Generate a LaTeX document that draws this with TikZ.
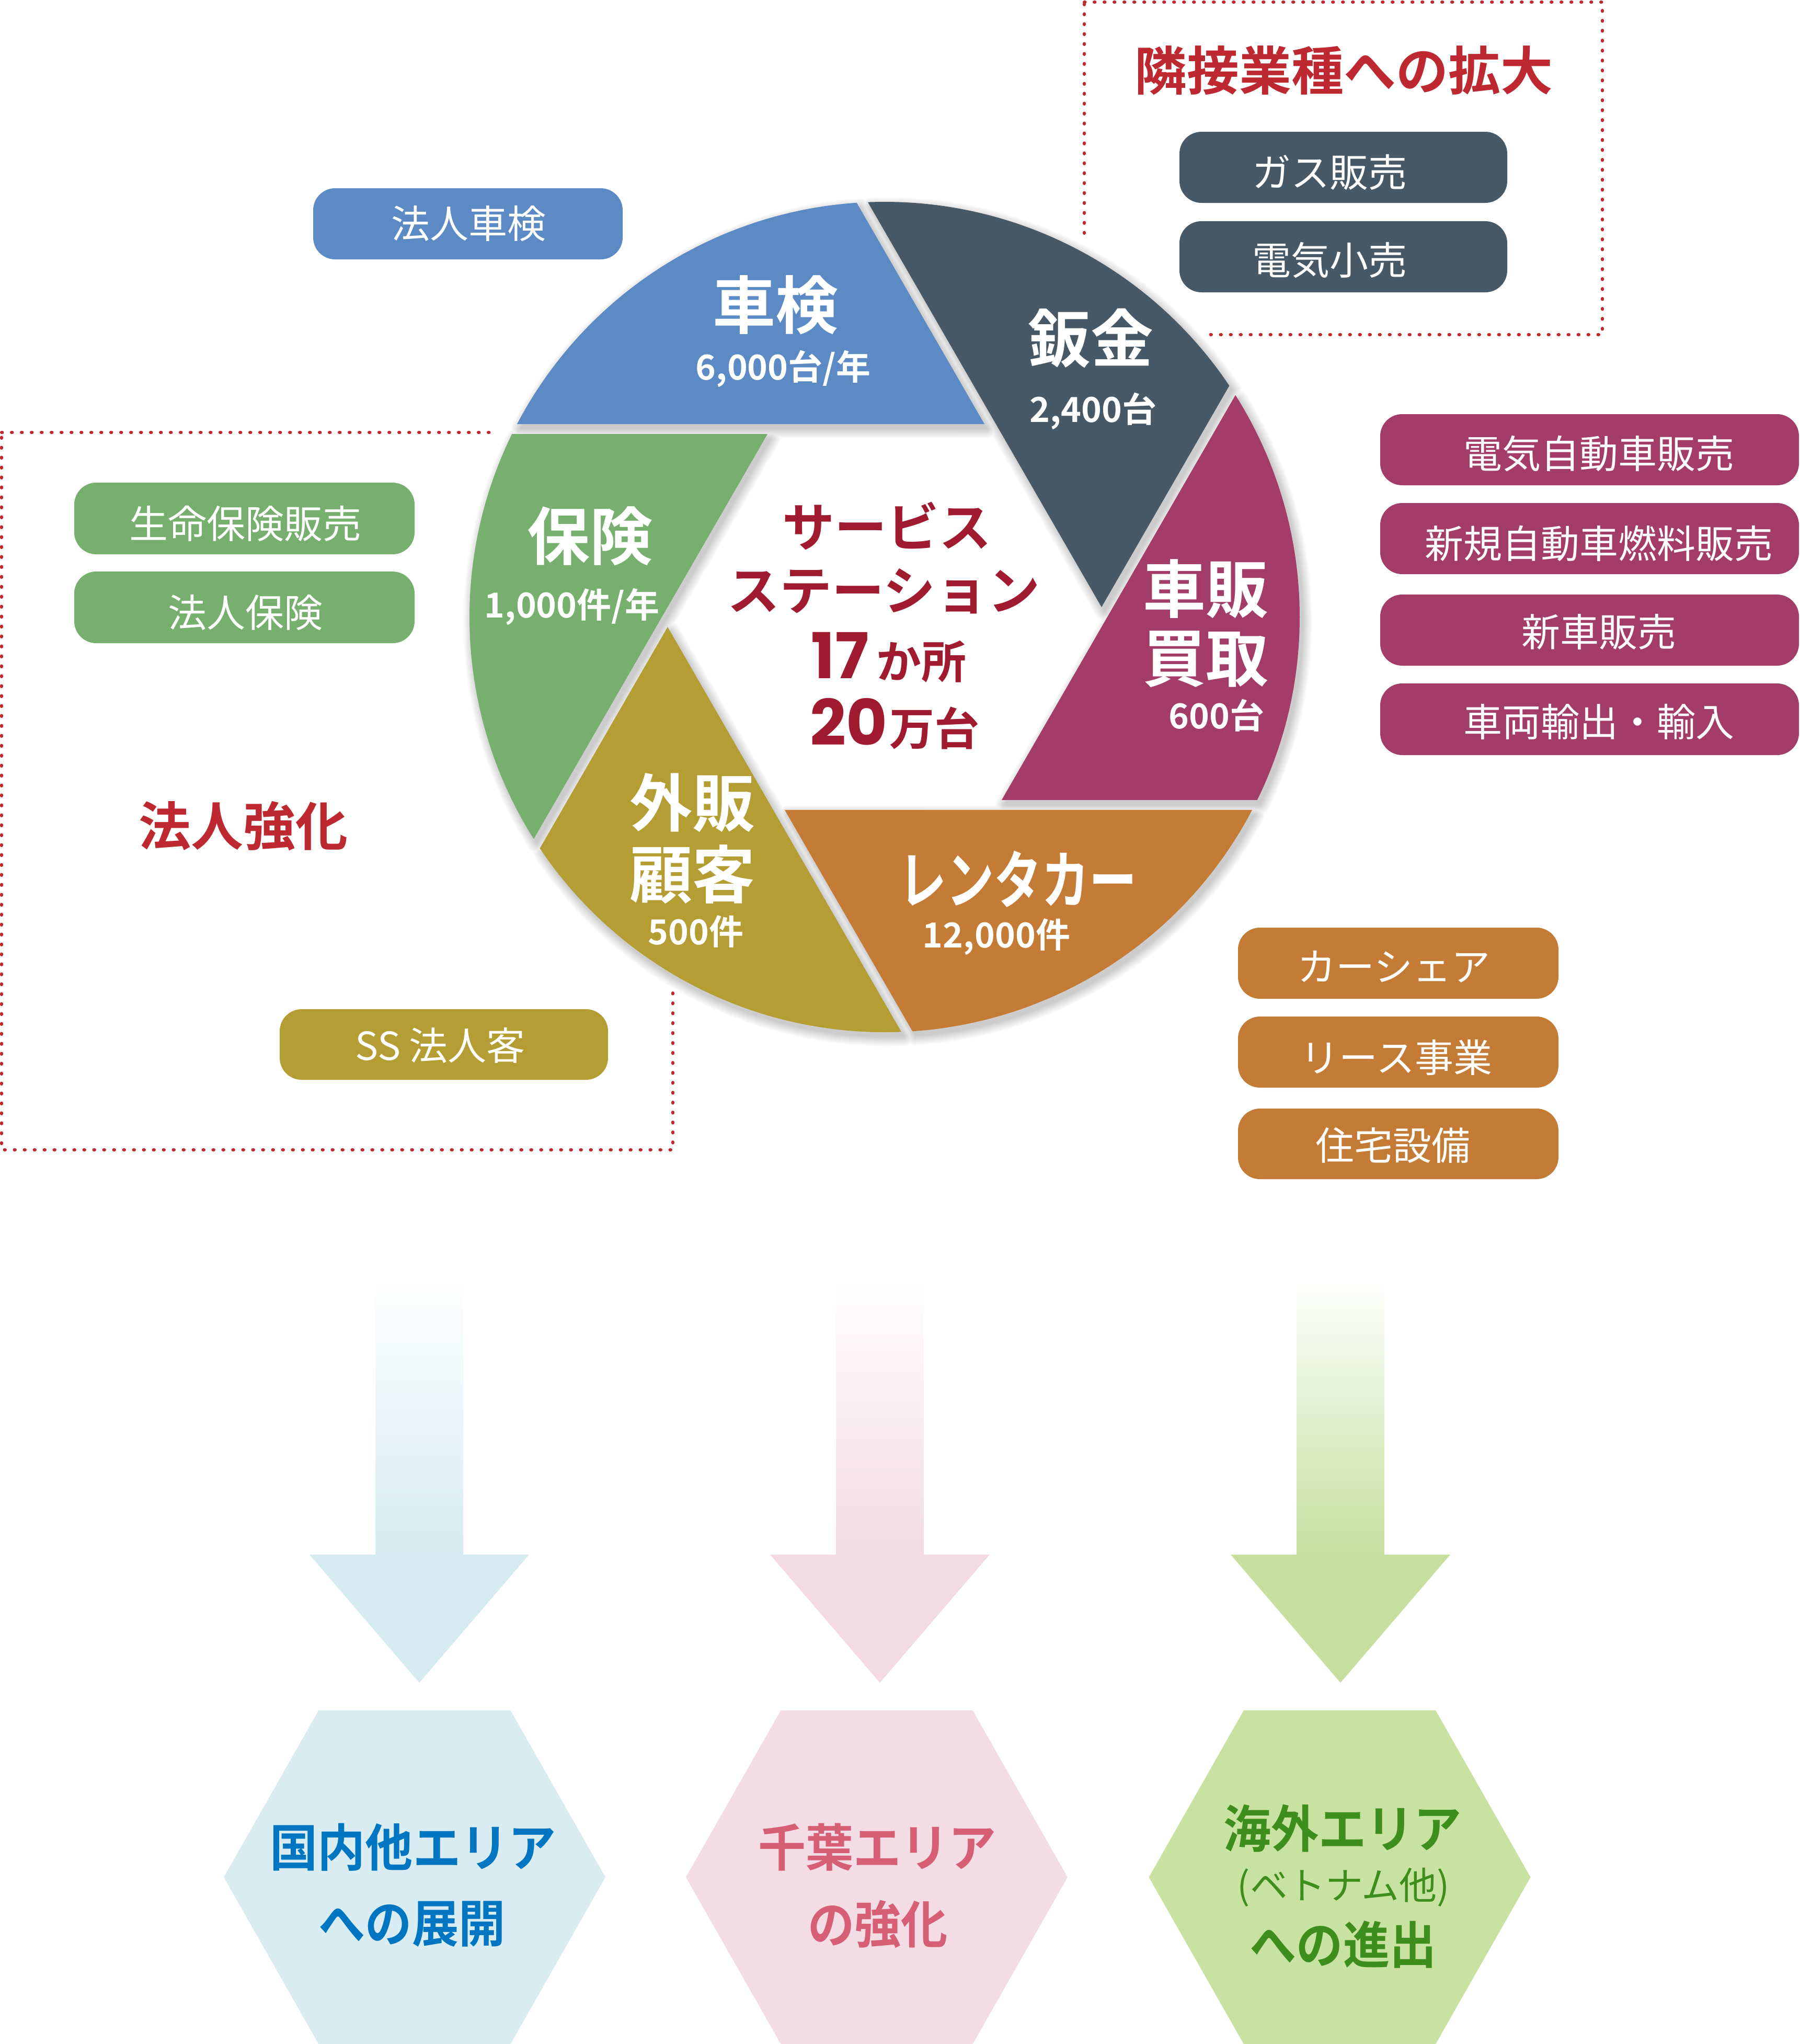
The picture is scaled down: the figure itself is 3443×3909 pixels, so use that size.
\documentclass[tikz,border=0pt]{standalone}
\usepackage{fontspec}
\setmainfont{Noto Sans CJK JP}
\newfontfamily\jpr{Noto Sans CJK JP}
\newfontfamily\jpb{Noto Sans CJK JP Bold}
\newfontfamily\pop{Poppins}
\newcommand\setfs[1]{\fontsize{#1pt}{#1pt}\selectfont}
\definecolor{cblue}{HTML}{5B8AC5}
\definecolor{cgray}{HTML}{475866}
\definecolor{cmaroon}{HTML}{A33D68}
\definecolor{corange}{HTML}{C37B35}
\definecolor{colive}{HTML}{B49D32}
\definecolor{cgreen}{HTML}{77AF6E}
\definecolor{cred}{HTML}{BE2830}
\definecolor{cdred}{HTML}{A01B30}
\definecolor{cdot}{HTML}{C1272D}
\definecolor{hblue}{HTML}{D8ECF2}
\definecolor{hpink}{HTML}{F4DCE5}
\definecolor{hgreen}{HTML}{C8E2A1}
\definecolor{tblue}{HTML}{0075C2}
\definecolor{tpink}{HTML}{D75F75}
\definecolor{tgreen}{HTML}{3E8E1E}
\definecolor{ablue}{HTML}{D6EBF1}
\definecolor{apink}{HTML}{F4DAE3}
\definecolor{agreen}{HTML}{C5E09E}
\begin{document}
\begin{tikzpicture}[x=1pt,y=1pt,
  blade/.style={insert path={(191.05,368.91) -- (-53.36,792.2) arc[start angle=93.853, end angle=152.31, radius=794] -- cycle}},
  dotline/.style={cdot, line width=6pt, line cap=round, dash pattern=on 1.5pt off 17.5pt},
  pillbox/.style={rounded corners=42pt},
  bl/.style={text=white, font=\jpb\setfs{120}, inner sep=0pt},
  bn/.style={text=white, font=\jpb\setfs{66}, inner sep=0pt},
  bx/.style={text=white, font=\jpr\setfs{74}, inner sep=0pt},
  hd/.style={text=cred, font=\jpb\setfs{100}, inner sep=0pt},
  ct/.style={text=cdred, font=\jpb\setfs{100}, inner sep=0pt},
  hx/.style={font=\jpb\setfs{97}, inner sep=0pt}
]
\useasboundingbox (0,0) rectangle (3443,-3909);
\fill[white] (0,0) rectangle (3443,-3909);

% dotted frames
\draw[dotline] (2074,-4) -- (3065,-4) -- (3065,-640) -- (2074,-640) -- cycle;
\draw[dotline] (3,-827) -- (1287,-827) -- (1287,-2199) -- (3,-2199) -- cycle;
% white halo around the wheel
\fill[white] (1692,-1180) circle[radius=822];

% soft shadows
\foreach \k in {8,...,1}{
  \pgfmathsetmacro\lw{\k*4.4}
  \pgfmathsetmacro\sh{2.3*(9-\k)}
  \foreach \r in {0,-60,-120,-180,120,60}{
    \begin{scope}[shift={(1698,-1189)}, rotate=\r]
      \draw[black!\sh, line width=\lw pt, line join=round, blade];
    \end{scope}
  }
}
\foreach \r in {0,-60,-120,-180,120,60}{
  \begin{scope}[shift={(1698,-1189)}, rotate=\r]
    \fill[black!20, blade];
  \end{scope}
}
% blades
\foreach \r/\c in {0/cblue,-60/cgray,-120/cmaroon,-180/corange,120/colive,60/cgreen}{
  \begin{scope}[shift={(1692,-1180)}, rotate=\r]
    \fill[\c, blade];
  \end{scope}
}

% blade labels
\node[bl] (shaken) at (1483,-583) {車検};
\node[bn] (shakenN) at (1498,-705) {6,000台/年};
\node[bl] (bankin) at (2086,-647) {鈑金};
\node[bn] (bankinN) at (2091,-786) {2,400台};
\node[bl] (hoken) at (1128,-1025) {保険};
\node[bn] (hokenN) at (1094,-1160) {1,000件/年};
\node[bl] (shahan) at (2306,-1126) {車販};
\node[bl] (kaitori) at (2306,-1261) {買取};
\node[bn] (shahanN) at (2327,-1368) {600台};
\node[bl] (gaihan) at (1324,-1535) {外販};
\node[bl] (kokyaku) at (1324,-1672) {顧客};
\node[bn] (gaihanN) at (1331,-1781) {500件};
\node[bl] (rental) at (1947,-1681) {\scalebox{0.76}[1]{レンタカー}};
\node[bn] (rentalN) at (1906,-1792) {12,000件};

% centre
\node[ct] (c1) at (1696,-1006) {サービス};
\node[ct] (c2) at (1690,-1131) {ステーション};
\node[ct, anchor=base] (c3) at (1700,-1297) {{\pop\bfseries\setfs{121}17}\hspace{14pt}{\jpb\setfs{86}か所}};
\node[ct, anchor=base] (c4) at (1711,-1425) {{\pop\bfseries\setfs{121}20}\hspace{4pt}{\jpb\setfs{86}万台}};

% headings
\node[hd] (h1) at (2570,-135) {隣接業種への拡大};
\node[hd] (h2) at (465,-1580) {法人強化};

% boxes
\fill[cblue, pillbox] (599,-360) rectangle (1191,-496);
\node[bx] (b1) at (896,-428) {法人車検};
\fill[cgray, pillbox] (2256,-252) rectangle (2883,-388);
\node[bx] (b2) at (2543,-329) {ガス販売};
\fill[cgray, pillbox] (2256,-423) rectangle (2883,-559);
\node[bx] (b3) at (2543,-498) {電気小売};
\fill[cmaroon, pillbox] (2640,-792) rectangle (3441,-928);
\node[bx] (b4) at (3058,-868) {電気自動車販売};
\fill[cmaroon, pillbox] (2640,-962) rectangle (3441,-1098);
\node[bx] (b5) at (3058,-1039) {新規自動車燃料販売};
\fill[cmaroon, pillbox] (2640,-1137) rectangle (3441,-1273);
\node[bx] (b6) at (3058,-1209) {新車販売};
\fill[cmaroon, pillbox] (2640,-1307) rectangle (3441,-1444);
\node[bx] (b7) at (3058,-1380) {車両輸出・輸入};
\fill[corange, pillbox] (2368,-1774) rectangle (2981,-1910);
\node[bx] (b8) at (2666,-1849) {カーシェア};
\fill[corange, pillbox] (2368,-1944) rectangle (2981,-2080);
\node[bx] (b9) at (2671,-2022) {リース事業};
\fill[corange, pillbox] (2368,-2120) rectangle (2981,-2255);
\node[bx] (b10) at (2664,-2190) {住宅設備};
\fill[cgreen, pillbox] (142,-923) rectangle (793,-1060);
\node[bx] (b11) at (469,-1001) {生命保険販売};
\fill[cgreen, pillbox] (142,-1093) rectangle (793,-1230);
\node[bx] (b12) at (469,-1172) {法人保険};
\fill[colive, pillbox] (535,-1930) rectangle (1163,-2065);
\node[bx] (b13) at (842,-1999) {SS 法人客};

% arrows
\shade[top color=white, bottom color=ablue] (718.5,-2446) rectangle (885.5,-2974);
\fill[ablue] (592,-2973) -- (1012,-2973) -- (802,-3218) -- cycle;
\shade[top color=white, bottom color=apink] (1599.5,-2446) rectangle (1766.5,-2974);
\fill[apink] (1473,-2973) -- (1893,-2973) -- (1683,-3218) -- cycle;
\shade[top color=white, bottom color=agreen] (2480.5,-2446) rectangle (2647.5,-2974);
\fill[agreen] (2354,-2973) -- (2774,-2973) -- (2564,-3218) -- cycle;

% hexagons
\fill[hblue] (609.5,-3271) -- (976.5,-3271) -- (1158,-3590) -- (976.5,-3909) -- (609.5,-3909) -- (428,-3590) -- cycle;
\fill[hpink] (1493.5,-3271) -- (1860.5,-3271) -- (2042,-3590) -- (1860.5,-3909) -- (1493.5,-3909) -- (1312,-3590) -- cycle;
\fill[hgreen] (2379,-3271) -- (2746,-3271) -- (2927.5,-3590) -- (2746,-3909) -- (2379,-3909) -- (2197.5,-3590) -- cycle;

\node[hx, text=tblue] (x1a) at (790,-3533) {\scalebox{0.94}[1]{国内他エリア}};
\node[hx, text=tblue] (x1b) at (788,-3680) {\scalebox{0.92}[1]{への展開}};
\node[hx, text=tpink] (x2a) at (1678,-3533) {\scalebox{0.94}[1]{千葉エリア}};
\node[hx, text=tpink] (x2b) at (1679,-3680) {\scalebox{0.92}[1]{の強化}};
\node[hx, text=tgreen] (x3a) at (2568,-3497) {\scalebox{0.94}[1]{海外エリア}};
\node[inner sep=0pt, text=tgreen, font=\jpr\setfs{72}] (x3b) at (2570,-3609) {(ベトナム他)};
\node[hx, text=tgreen] (x3c) at (2569,-3719) {\scalebox{0.92}[1]{への進出}};
\end{tikzpicture}
\end{document}
